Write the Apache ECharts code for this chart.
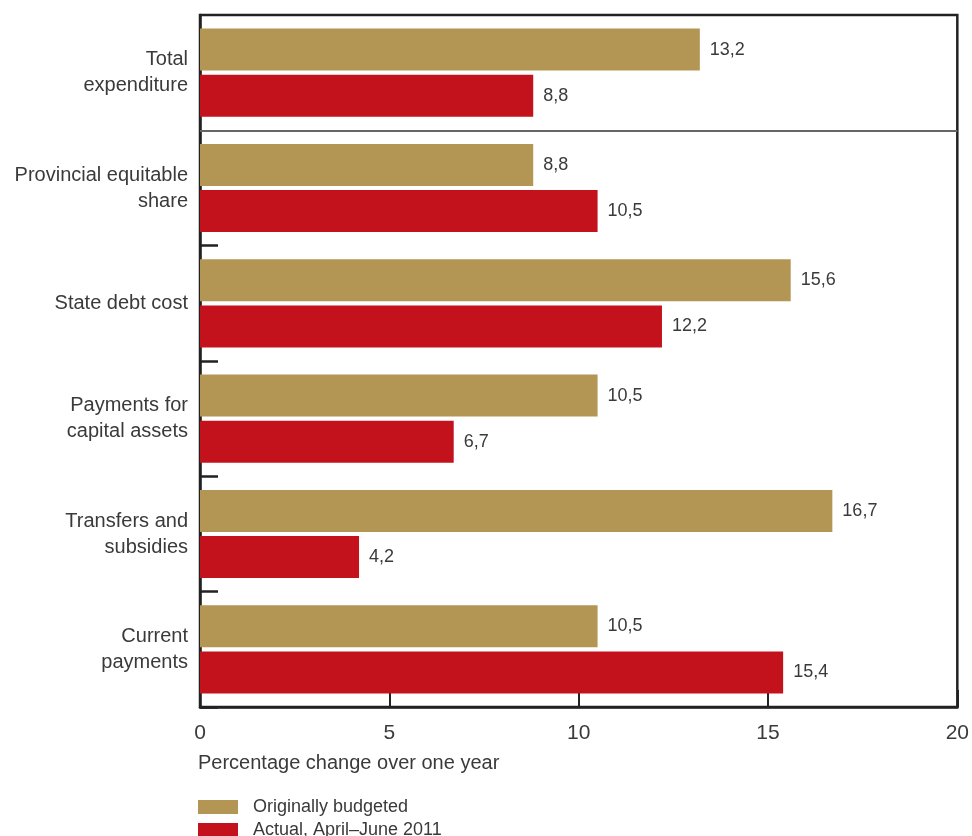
<!DOCTYPE html>
<html>
<head>
<meta charset="utf-8">
<script src="https://cdn.jsdelivr.net/npm/echarts@6/dist/echarts.min.js"></script>
<style>html,body{margin:0;padding:0;background:#fff}#c{width:972px;height:836px}</style>
</head>
<body>
<div id="c"></div>
<script>
var categories = ['Total\nexpenditure', 'Provincial equitable\nshare', 'State debt cost', 'Payments for\ncapital assets', 'Transfers and\nsubsidies', 'Current\npayments'];
var budgeted = [13.2, 8.8, 15.6, 10.5, 16.7, 10.5];
var actual = [8.8, 10.5, 12.2, 6.7, 4.2, 15.4];
var xTicks = [0, 5, 10, 15, 20];
var seriesNames = ['Originally budgeted', 'Actual, April\u2013June 2011'];
var separatorAfter = [1]; // boundary after the first category (Total expenditure)

var FONT = '"Liberation Sans", Arial, sans-serif';
var TXT = '#3a3a3a';
var chart = echarts.init(document.getElementById('c'), null, {renderer: 'canvas'});
function fmt(p) { return p.value.toFixed(1).replace('.', ','); }
var labelStyle = {show: true, position: 'right', distance: 10, formatter: fmt, fontFamily: FONT, fontSize: 18, color: TXT};
chart.setOption({
  animation: false,
  textStyle: {fontFamily: FONT},
  title: {
    text: 'Percentage change over one year',
    left: 198, top: 753, padding: 0,
    textStyle: {fontFamily: FONT, fontWeight: 'normal', fontSize: 20, color: TXT}
  },
  legend: {
    orient: 'vertical', left: 198, top: 797, height: 60, padding: 0,
    itemWidth: 40, itemHeight: 14, itemGap: 3,
    icon: 'rect',
    textStyle: {fontFamily: FONT, fontSize: 18, lineHeight: 20, color: TXT, padding: [0, 0, 0, 10]},
    data: seriesNames
  },
  grid: {left: 200, right: 14, top: 15, bottom: 129, show: true, borderColor: '#222', borderWidth: 2.5, containLabel: false},
  xAxis: {
    type: 'value', min: xTicks[0], max: xTicks[xTicks.length - 1], interval: 5, position: 'bottom',
    axisLine: {show: true, onZero: false, lineStyle: {color: '#222', width: 2.5}},
    axisTick: {show: true, inside: true, length: 17, lineStyle: {color: '#222', width: 2}},
    splitLine: {show: false},
    axisLabel: {fontFamily: FONT, fontSize: 21, color: TXT, margin: 16}
  },
  yAxis: [{
    type: 'category', data: categories, inverse: true,
    axisLine: {show: true, onZero: false, lineStyle: {color: '#222', width: 2.5}},
    axisTick: {show: true, inside: true, length: 18, lineStyle: {color: '#222', width: 2.5},
      interval: function (i) { return i >= 2 && i < categories.length; }},
    splitLine: {show: false},
    axisLabel: {fontFamily: FONT, fontSize: 20, color: TXT, margin: 12, lineHeight: 26, align: 'right'}
  }, {
    type: 'value', min: 0, max: categories.length, inverse: true, show: false,
    axisLine: {show: false, onZero: false}, axisTick: {show: false}, axisLabel: {show: false}, splitLine: {show: false}
  }],
  series: [
    {name: seriesNames[0], type: 'bar', data: budgeted, barWidth: 42, barGap: '10%',
      itemStyle: {color: '#B49654'}, label: labelStyle},
    {name: seriesNames[1], type: 'bar', data: actual, barWidth: 42, barGap: '10%',
      itemStyle: {color: '#C3121C'}, label: labelStyle},
    {name: 'separator', type: 'line', yAxisIndex: 1, data: [],
      markLine: {silent: true, symbol: ['none', 'none'], label: {show: false},
        lineStyle: {color: '#666', width: 2, type: 'solid'},
        data: separatorAfter.map(function (v) { return {yAxis: v}; })}}
  ]
});
</script>
</body>
</html>
